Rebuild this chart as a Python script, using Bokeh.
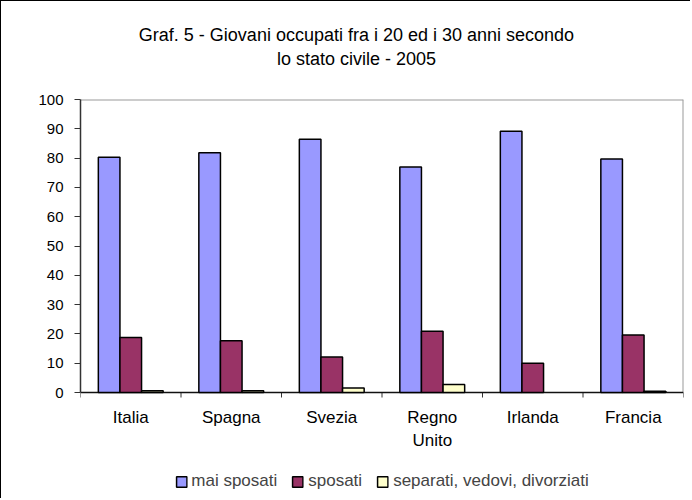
from bokeh.plotting import figure
from bokeh.models import (ColumnDataSource, Range1d, LinearAxis,
                          FixedTicker, Legend, LegendItem)
from bokeh.transform import dodge
from bokeh.core.properties import value
from bokeh.embed import file_html
from bokeh.resources import INLINE

# ---- data ----
countries = ["Italia", "Spagna", "Svezia", "Regno\nUnito", "Irlanda", "Francia"]
mai_sposati = [80.3, 81.8, 86.4, 77.0, 89.2, 79.7]
sposati = [18.8, 17.7, 12.1, 20.9, 10.0, 19.6]
separati = [0.6, 0.6, 1.5, 2.7, float("nan"), 0.4]
series_names = ["mai sposati", "sposati", "separati, vedovi, divorziati"]
series_colors = ["#9999FF", "#993366", "#FFFFCC"]
y_ticks = list(range(0, 101, 10))
title_text = "Graf. 5 - Giovani occupati fra i 20 ed i 30 anni secondo\nlo stato civile - 2005"

FONT = "Liberation Sans"
n = len(countries)
idx = list(range(n))

# layout geometry (pixels)
W, H = 690, 498
LEFT, TOP, RIGHT = 79, 98, 682
AXIS_Y = 391                     # pixel row of value 0
px_per_unit = (AXIS_Y - TOP) / 100.0
frame_h = H - TOP
ymin = -(frame_h - (AXIS_Y - TOP)) / px_per_unit

source = ColumnDataSource(data=dict(idx=idx, mai=mai_sposati,
                                    spo=sposati, sep=separati))

p = figure(x_range=Range1d(-0.5, n - 0.5), y_range=Range1d(ymin, 100),
           width=W, height=H, output_backend="svg", toolbar_location=None,
           x_axis_location=None, min_border_left=LEFT, min_border_right=W - RIGHT,
           min_border_top=TOP, min_border_bottom=0)
p.styles = {"border-left": "1px solid #000000", "border-top": "1px solid #000000"}
p.background_fill_color = "white"
p.border_fill_color = "white"
p.outline_line_color = None
p.xgrid.grid_line_color = None
p.ygrid.grid_line_color = None

# y axis (only over 0..100)
yax = p.yaxis[0]
yax.bounds = (0, 100)
yax.ticker = FixedTicker(ticks=y_ticks)
yax.axis_line_color = "#333333"
yax.axis_line_width = 1.5
yax.major_tick_line_color = "#333333"
yax.major_tick_out = 6
yax.major_tick_in = 0
yax.minor_tick_line_color = None
yax.major_label_standoff = 11
yax.major_label_text_font = FONT
yax.major_label_text_font_size = "15px"
yax.major_label_text_color = "black"

# plot-area border (top and right, grey)
p.segment(x0=[-0.5, n - 0.5], y0=[100, 0], x1=[n - 0.5, n - 0.5], y1=[100, 100],
          line_color="#9a9a9a", line_width=2)

# category axis: base line, boundary ticks and labels
bounds = [i - 0.5 for i in range(n + 1)]
tick_len = 5 / px_per_unit
p.segment(x0=bounds, y0=[0] * len(bounds), x1=bounds, y1=[-tick_len] * len(bounds),
          line_color="#333333", line_width=1)
p.segment(x0=[-0.5], y0=[0], x1=[n - 0.5], y1=[0], line_color="#111111", line_width=1.5)
p.text(x=idx, y=[-(15 / px_per_unit)] * n, text=countries,
       text_align="center", text_baseline="top", text_font=value(FONT),
       text_font_size="17px", text_line_height=1.24, text_color="black")

# title: a label-only axis above the plot area, centred on the chart
title_pos = 2.246
title_axis = LinearAxis(ticker=FixedTicker(ticks=[title_pos]),
                        major_label_overrides={title_pos: title_text},
                        axis_line_color=None, major_tick_line_color=None,
                        minor_tick_line_color=None,
                        major_label_standoff=25,
                        major_label_text_font=FONT,
                        major_label_text_font_size="18px",
                        major_label_text_line_height=1.16,
                        major_label_text_color="black")
p.add_layout(title_axis, "above")

# bars
w = 0.215
keys = ["mai", "spo", "sep"]
offsets = [-w, 0.0, w]
renderers = []
for k, off, col in zip(keys, offsets, series_colors):
    r = p.vbar(x=dodge("idx", off), top=k, width=w, bottom=0,
               source=source, fill_color=col, line_color="black", line_width=1.5)
    renderers.append(r)

legend = Legend(items=[LegendItem(label=nm, renderers=[r])
                       for nm, r in zip(series_names, renderers)],
                orientation="horizontal", location="bottom_center",
                label_text_font=FONT, label_text_font_size="17px",
                label_standoff=4, spacing=14, glyph_width=13, glyph_height=13,
                border_line_color=None, background_fill_alpha=0,
                padding=4, margin=8)
p.add_layout(legend, "center")

open("out.html", "w").write(file_html(p, INLINE))
